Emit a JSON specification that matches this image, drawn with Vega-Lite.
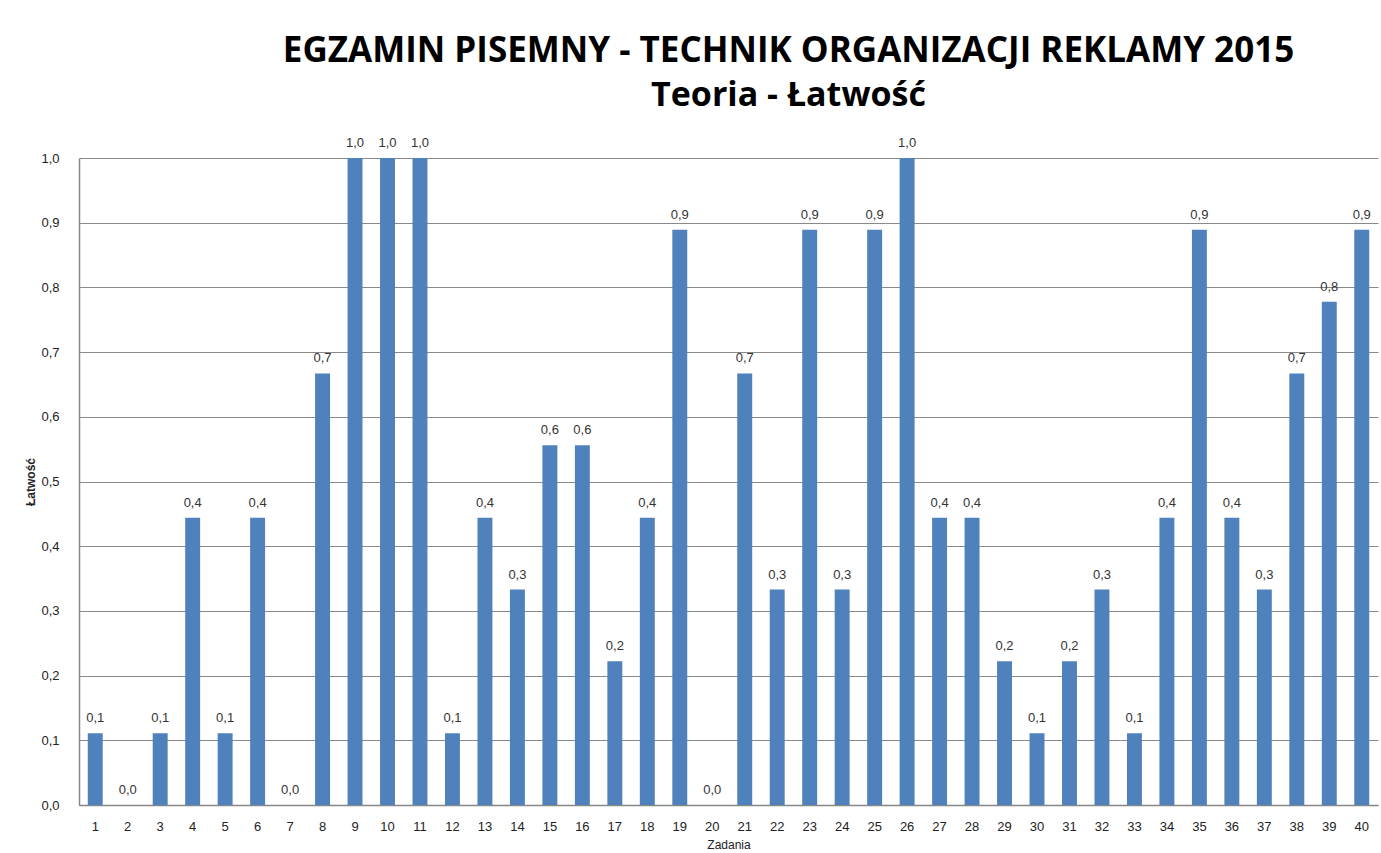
{
  "$schema": "https://vega.github.io/schema/vega-lite/v6.json",
  "autosize": "none",
  "width": 1299,
  "height": 647,
  "padding": {"left": 79, "top": 158, "right": 3, "bottom": 48},
  "background": "white",
  "config": {
    "locale": {"number": {"decimal": ",", "thousands": " ", "grouping": [3], "currency": ["", " zł"]}},
    "view": {"stroke": null},
    "font": "Liberation Sans"
  },
  "title": {
    "text": "EGZAMIN PISEMNY  - TECHNIK ORGANIZACJI REKLAMY 2015",
    "subtitle": "Teoria - Łatwość",
    "anchor": "middle",
    "dx": 60,
    "offset": 24,
    "font": "Open Sans",
    "fontSize": 35,
    "fontWeight": "bold",
    "color": "#000000",
    "subtitleFont": "Open Sans",
    "subtitleFontSize": 34,
    "subtitleFontWeight": "bold",
    "subtitleColor": "#000000",
    "subtitlePadding": 10
  },
  "data": {
    "values": [
      {"z": 1, "v": 0.111}, {"z": 2, "v": 0}, {"z": 3, "v": 0.111}, {"z": 4, "v": 0.444},
      {"z": 5, "v": 0.111}, {"z": 6, "v": 0.444}, {"z": 7, "v": 0}, {"z": 8, "v": 0.667},
      {"z": 9, "v": 1}, {"z": 10, "v": 1}, {"z": 11, "v": 1}, {"z": 12, "v": 0.111},
      {"z": 13, "v": 0.444}, {"z": 14, "v": 0.333}, {"z": 15, "v": 0.556}, {"z": 16, "v": 0.556},
      {"z": 17, "v": 0.222}, {"z": 18, "v": 0.444}, {"z": 19, "v": 0.889}, {"z": 20, "v": 0},
      {"z": 21, "v": 0.667}, {"z": 22, "v": 0.333}, {"z": 23, "v": 0.889}, {"z": 24, "v": 0.333},
      {"z": 25, "v": 0.889}, {"z": 26, "v": 1}, {"z": 27, "v": 0.444}, {"z": 28, "v": 0.444},
      {"z": 29, "v": 0.222}, {"z": 30, "v": 0.111}, {"z": 31, "v": 0.222}, {"z": 32, "v": 0.333},
      {"z": 33, "v": 0.111}, {"z": 34, "v": 0.444}, {"z": 35, "v": 0.889}, {"z": 36, "v": 0.444},
      {"z": 37, "v": 0.333}, {"z": 38, "v": 0.667}, {"z": 39, "v": 0.778}, {"z": 40, "v": 0.889}
    ]
  },
  "encoding": {
    "x": {
      "field": "z",
      "type": "ordinal",
      "sort": null,
      "scale": {"paddingInner": 0.54, "paddingOuter": 0.27},
      "axis": {
        "title": "Zadania",
        "titleFontSize": 12,
        "titleFontWeight": "normal",
        "titleColor": "#222222",
        "titlePadding": 6,
        "labelAngle": 0,
        "labelFontSize": 13,
        "labelColor": "#222222",
        "labelPadding": 15,
        "ticks": false,
        "domainColor": "#868686",
        "domainWidth": 1.5
      }
    },
    "y": {
      "field": "v",
      "type": "quantitative",
      "scale": {"domain": [0, 1], "nice": false},
      "axis": {
        "title": "Łatwość",
        "titleFontSize": 12,
        "titleFontWeight": "bold",
        "titleColor": "#222222",
        "titlePadding": 3,
        "values": [0, 0.1, 0.2, 0.3, 0.4, 0.5, 0.6, 0.7, 0.8, 0.9, 1.0],
        "format": ".1f",
        "labelFontSize": 13,
        "labelColor": "#222222",
        "labelPadding": 20,
        "ticks": false,
        "grid": true,
        "gridColor": "#8a8a8a",
        "gridWidth": 1.2,
        "domainColor": "#868686",
        "domainWidth": 1.5
      }
    }
  },
  "layer": [
    {
      "mark": {"type": "bar", "color": "#4F81BD"}
    },
    {
      "mark": {"type": "text", "baseline": "bottom", "dy": -8, "fontSize": 13, "color": "#333333"},
      "encoding": {
        "text": {"field": "v", "type": "quantitative", "format": ".1f"}
      }
    }
  ]
}
